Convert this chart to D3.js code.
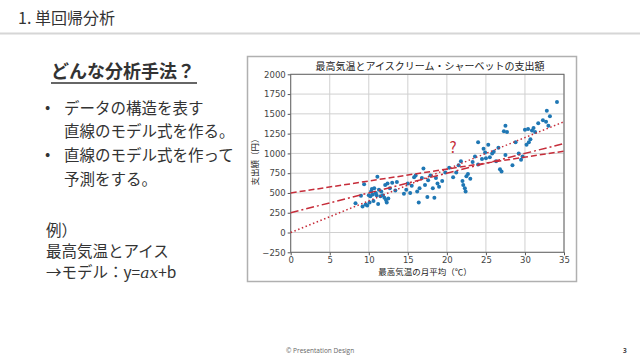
<!DOCTYPE html>
<html><head><meta charset="utf-8">
<script src="https://cdn.jsdelivr.net/npm/d3@7"></script>
<style>
html,body{margin:0;padding:0;background:#fff;}
svg{display:block;}
</style></head>
<body>
<svg id="s" width="640" height="360"></svg>
<script>
// ---- data ----
const temps = [8.3,9.0,9.2,9.4,9.6,9.8,10.0,10.1,10.2,10.3,10.4,10.5,10.6,10.7,10.9,11.0,11.1,11.2,11.3,11.5,11.6,11.8,12.0,12.1,12.2,12.3,12.4,12.5,12.7,13.0,13.4,13.6,
  14.5,14.8,15.0,15.3,15.5,15.8,16.0,16.2,16.4,16.5,16.8,17.0,17.2,17.5,17.6,17.9,18.2,18.4,18.6,18.8,19.0,19.4,
  19.8,20.3,20.8,21.2,21.5,21.8,22.0,22.1,22.3,22.4,22.5,22.7,23.0,23.3,
  23.6,24.0,24.0,24.5,24.7,24.9,25.0,25.3,25.5,25.8,26.0,26.3,26.6,26.8,27.0,27.3,27.5,27.7,27.5,
  28.4,28.8,29.2,29.5,29.7,30.0,30.2,30.4,30.5,30.7,30.9,31.1,31.3,31.7,32.3,32.7,32.8,33.0,33.2,34.1];
const spend = [370,465,330,610,355,340,470,380,460,520,550,480,400,560,500,470,705,360,540,460,520,470,440,600,410,380,620,430,560,630,530,640,
  490,540,620,500,590,700,720,520,380,560,690,810,600,450,660,720,560,440,690,620,580,650,
  760,820,700,760,850,900,650,600,560,520,710,740,680,890,
  960,1140,860,930,1060,1010,940,1110,950,1000,1020,900,1070,800,770,1280,1350,1270,980,
  850,1140,1000,920,960,1300,1110,1310,1140,1180,1290,1320,1270,1380,1420,1400,1540,1350,1470,1650];
const xTicks = [0,5,10,15,20,25,30,35];
const yTicks = [-250,0,250,500,750,1000,1250,1500,1750,2000];
// model lines: intercepts, slopes, dashes
const lineIntercepts = [500, 250, 0];
const lineSlopes = [15.1, 25.0, 40.0];
const lineDashes = ["6,3", "8,3,2,3", "1.5,2.5"];
const bullets = [["データの構造を表す","直線のモデル式を作る。"],["直線のモデル式を作って","予測をする。"]];
const exampleLines = ["例）","最高気温とアイス"];

const svg = d3.select("#s");
const JP = "'Noto Sans CJK JP','Noto Sans',sans-serif";
const txt = "#333";

// header
svg.append("text").attr("x",18).attr("y",24).attr("font-family",JP).attr("font-size",16).attr("fill",txt).text("1. 単回帰分析");
svg.append("line").attr("x1",0).attr("x2",640).attr("y1",33.5).attr("y2",33.5).attr("stroke","#d6d6d6").attr("stroke-width",2);

// left texts
svg.append("text").attr("x",51).attr("y",78).attr("font-family",JP).attr("font-size",18).attr("font-weight","bold").attr("fill",txt).text("どんな分析手法？");
svg.append("line").attr("x1",51).attr("x2",197).attr("y1",83).attr("y2",83).attr("stroke",txt).attr("stroke-width",1.5);

const FS = 15.5;
const lineYs = [[108,131],[155,179]];
bullets.forEach((b,i)=>{
  svg.append("text").attr("x",45).attr("y",lineYs[i][0]+5).attr("font-family",JP).attr("font-size",FS).attr("fill",txt).text("•");
  b.forEach((t,j)=>{
    svg.append("text").attr("x",64).attr("y",lineYs[i][j]+5.5).attr("font-family",JP).attr("font-size",FS).attr("fill",txt).text(t);
  });
});
const exY = [230,251];
exampleLines.forEach((t,i)=>{
  svg.append("text").attr("x",46).attr("y",exY[i]+5.5).attr("font-family",JP).attr("font-size",FS).attr("fill",txt).text(t);
});
const m = svg.append("text").attr("x",46).attr("y",272+5.5).attr("font-family",JP).attr("font-size",FS).attr("fill",txt);
m.append("tspan").text("→モデル：y=");
m.append("tspan").attr("font-family","'DejaVu Serif','Liberation Serif',serif").attr("font-style","italic").text("ax");
m.append("tspan").text("+b");

// chart box
svg.append("rect").attr("x",247.5).attr("y",56.5).attr("width",329).attr("height",225).attr("fill","#fff").attr("stroke","#b0b0b0").attr("stroke-width",1.5);

const x = d3.scaleLinear().domain([0,35]).range([290.7,564]);
const y = d3.scaleLinear().domain([-250,2000]).range([252.3,74.3]);

const g = svg.append("g");
// grid
g.selectAll(".gx").data(xTicks).join("line").attr("x1",d=>x(d)).attr("x2",d=>x(d)).attr("y1",y(-250)).attr("y2",y(2000)).attr("stroke","#d0d0d0").attr("stroke-width",1);
g.selectAll(".gy").data(yTicks).join("line").attr("x1",x(0)).attr("x2",x(35)).attr("y1",d=>y(d)).attr("y2",d=>y(d)).attr("stroke","#d0d0d0").attr("stroke-width",1);

// axes
const ax = g.append("g").attr("transform",`translate(0,${y(-250)})`).call(d3.axisBottom(x).tickValues(xTicks).tickSize(3).tickPadding(2).tickFormat(d3.format("d")));
const ay = g.append("g").attr("transform",`translate(${x(0)},0)`).call(d3.axisLeft(y).tickValues(yTicks).tickSize(3).tickPadding(2).tickFormat(d=>d<0?"−"+(-d):d));
[ax,ay].forEach(a=>{
  a.select(".domain").remove();
  a.selectAll("text").attr("font-family","'DejaVu Sans',sans-serif").attr("font-size",8.5).attr("fill","#444");
  a.selectAll("line").attr("stroke","#555");
});
g.append("rect").attr("x",x(0)).attr("y",y(2000)).attr("width",x(35)-x(0)).attr("height",y(-250)-y(2000)).attr("fill","none").attr("stroke","#666").attr("stroke-width",1);

// points
g.selectAll(".pt").data(temps.map((t,i)=>[t,spend[i]])).join("circle")
  .attr("cx",d=>x(d[0])).attr("cy",d=>y(d[1])).attr("r",2).attr("fill","#1f77b4");

// lines
lineIntercepts.forEach((b,i)=>{
  g.append("line").attr("x1",x(0)).attr("y1",y(b)).attr("x2",x(35)).attr("y2",y(b+lineSlopes[i]*35))
   .attr("stroke","#c62d3a").attr("stroke-width",1.5).attr("stroke-dasharray",lineDashes[i]);
});
g.append("text").attr("x",x(20.8)).attr("y",y(1010)).attr("text-anchor","middle").attr("font-family",JP).attr("font-size",15).attr("fill","#c62d3a").text("?");

// titles
svg.append("text").attr("x",430).attr("y",70).attr("text-anchor","middle").attr("font-family",JP).attr("font-size",10).attr("fill","#222").text("最高気温とアイスクリーム・シャーベットの支出額");
svg.append("text").attr("x",425).attr("y",275).attr("text-anchor","middle").attr("font-family",JP).attr("font-size",8.5).attr("fill","#222").text("最高気温の月平均（℃）");
svg.append("text").attr("transform","translate(258,160) rotate(-90)").attr("text-anchor","middle").attr("font-family",JP).attr("font-size",8.5).attr("fill","#222").text("支出額（円）");

// footer
svg.append("text").attr("x",286).attr("y",353).attr("font-family","'Open Sans',sans-serif").attr("font-size",6.5).attr("fill","#666").text("© Presentation Design");
svg.append("text").attr("x",623).attr("y",353).attr("font-family","'Open Sans',sans-serif").attr("font-size",6.5).attr("font-weight","bold").attr("fill","#444").text("3");
</script>
</body></html>
